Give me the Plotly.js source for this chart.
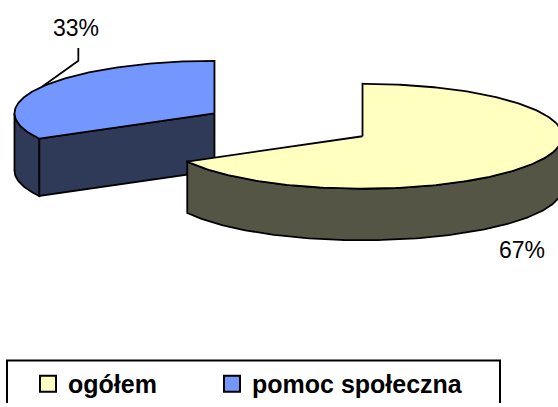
<!DOCTYPE html>
<html><head><meta charset="utf-8">
<script src="https://cdn.plot.ly/plotly-3.0.1.min.js"></script>
<style>html,body{margin:0;padding:0;background:#fff;} #chart{width:558px;height:407px;}</style>
</head><body><div id="chart"></div>
<script>
// ---- data ----
const categories = ['ogółem', 'pomoc społeczna'];
const values = [67, 33];

// ---- styles ----
const topColors = ['#FFFFC0', '#7396FF'];
const sideColors = ['#555545', '#2F3A58'];
const FONT = '"Liberation Sans", Arial, Helvetica, sans-serif';

// ---- 3D pie geometry (pixels, 1 axis unit = 1 px) ----
const G = {cx: 288.5, cy: 126, rx: 200, ry: 53, explode: 0.43, start: 90};
const sliceDepth = [52, 58];
// label placement relative to the slice's mid-angle edge point
const labelCfg = [
  {edge: 'bottom', text: [-13, 36], leader: null},
  {edge: 'top', text: [34, -59], leader: [[36, -26], [36, -39]]}
];
// legend entry x positions (px, left of each entry)
const legendX = [28, 212];

const total = values.reduce((a, b) => a + b, 0);
const rad = d => d * Math.PI / 180;
let cum = 0;
const slices = values.map((v, i) => {
  const a0 = G.start - cum / total * 360;
  cum += v;
  const a1 = G.start - cum / total * 360;
  const mid = (a0 + a1) / 2;
  const ox = G.cx + G.explode * G.rx * Math.cos(rad(mid));
  const oy = G.cy - G.explode * G.ry * Math.sin(rad(mid));
  return {i, v, a0, a1, mid, ox, oy, depth: sliceDepth[i]};
});
function pt(s, a, down) {
  return [s.ox + G.rx * Math.cos(rad(a)), s.oy - G.ry * Math.sin(rad(a)) + (down ? s.depth : 0)];
}
function arcAngles(a0, a1) {
  let list = [];
  const n = Math.max(2, Math.ceil(Math.abs(a0 - a1)));
  for (let k = 0; k <= n; k++) list.push(a0 + (a1 - a0) * k / n);
  const lo = Math.min(a0, a1), hi = Math.max(a0, a1);
  for (let m = Math.ceil(lo / 180); m * 180 <= hi; m++) list.push(m * 180);
  list.sort((x, y) => (a1 < a0 ? y - x : x - y));
  return list.filter((t, k) => k === 0 || Math.abs(t - list[k - 1]) > 1e-9);
}

const traces = [];
function poly(pts, fill) {
  traces.push({
    type: 'scatter', mode: 'lines', fill: 'toself', fillcolor: fill,
    x: pts.map(p => p[0]), y: pts.map(p => p[1]),
    line: {color: '#000', width: 1.8}, hoverinfo: 'skip', showlegend: false
  });
}

const order = slices.slice().sort((a, b) => a.oy - b.oy);
order.forEach(s => {
  const c = [s.ox, s.oy], cb = [s.ox, s.oy + s.depth];
  if (Math.cos(rad(s.a0)) < -1e-6) poly([c, pt(s, s.a0, false), pt(s, s.a0, true), cb, c], sideColors[s.i]);
  if (Math.cos(rad(s.a1)) > 1e-6) poly([c, pt(s, s.a1, false), pt(s, s.a1, true), cb, c], sideColors[s.i]);
  const angs = arcAngles(s.a0, s.a1);
  let run = [];
  const flush = () => {
    if (run.length > 1) {
      const topPts = run.map(a => pt(s, a, false));
      const botPts = run.slice().reverse().map(a => pt(s, a, true));
      poly(topPts.concat(botPts, [topPts[0]]), sideColors[s.i]);
    }
    run = [];
  };
  for (let k = 0; k < angs.length - 1; k++) {
    const m = (angs[k] + angs[k + 1]) / 2;
    if (Math.sin(rad(m)) < 0) {
      if (run.length === 0) run.push(angs[k]);
      run.push(angs[k + 1]);
    } else flush();
  }
  flush();
  poly([c].concat(angs.map(a => pt(s, a, false)), [c]), topColors[s.i]);
});

// labels
const annotations = [];
slices.forEach(s => {
  const cfg = labelCfg[s.i];
  const base = pt(s, s.mid, cfg.edge === 'bottom');
  if (cfg.leader) {
    const lp = [base].concat(cfg.leader.map(o => [base[0] + o[0], base[1] + o[1]]));
    traces.push({type: 'scatter', mode: 'lines', x: lp.map(p => p[0]), y: lp.map(p => p[1]),
      line: {color: '#000', width: 1.8}, hoverinfo: 'skip', showlegend: false});
  }
  annotations.push({
    x: base[0] + cfg.text[0], y: base[1] + cfg.text[1], xref: 'x', yref: 'y',
    text: Math.round(s.v / total * 100) + '%', showarrow: false,
    xanchor: 'center', yanchor: 'middle',
    font: {family: FONT, size: 23, color: '#000'}
  });
});

// legend entries (one legend per entry for Excel-like spacing)
const legendNames = ['legend', 'legend2'];
categories.forEach((name, i) => {
  traces.push({
    type: 'scatter', mode: 'markers', x: [null], y: [null], name: name,
    legend: legendNames[i],
    marker: {symbol: 'square', size: 16, color: topColors[i], line: {color: '#000', width: 2}},
    showlegend: true, hoverinfo: 'skip'
  });
});
const legendStyle = x => ({
  orientation: 'h', x: x / 558, xanchor: 'left', y: 1 - 364.5 / 407, yanchor: 'top',
  font: {family: FONT, size: 25, color: '#000', weight: 'bold'},
  bgcolor: 'rgba(0,0,0,0)', borderwidth: 0
});

const layout = {
  width: 558, height: 407,
  margin: {l: 0, r: 0, t: 0, b: 0},
  paper_bgcolor: '#fff', plot_bgcolor: '#fff',
  xaxis: {range: [0, 558], visible: false, fixedrange: true},
  yaxis: {range: [407, 0], visible: false, fixedrange: true},
  showlegend: true,
  legend: legendStyle(legendX[0]),
  legend2: legendStyle(legendX[1]),
  shapes: [{type: 'rect', xref: 'x', yref: 'y', x0: 7, y0: 364, x1: 500, y1: 440,
    line: {color: '#000', width: 2}, fillcolor: 'rgba(0,0,0,0)', layer: 'above'}],
  annotations: annotations
};

Plotly.newPlot('chart', traces, layout, {displayModeBar: false, staticPlot: true});
</script>
</body></html>
